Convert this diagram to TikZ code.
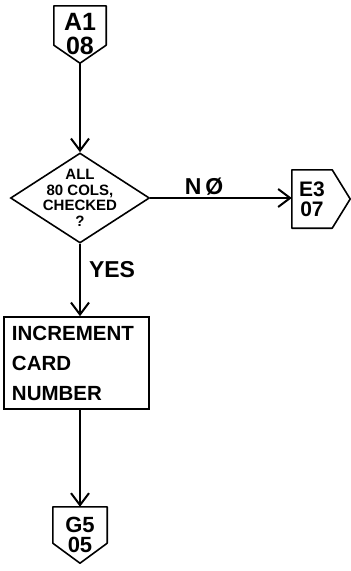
\documentclass[tikz,border=0pt]{standalone}
\usepackage{fontspec}
\setmainfont{Liberation Sans}
\usepackage{tikz}
\usetikzlibrary{arrows.meta}
\usetikzlibrary{shapes.geometric}

\begin{document}
\begin{tikzpicture}[x=1pt,y=-1pt,
    flow/.style={line width=2pt,-{Straight Barb[length=12pt,width=18pt,line width=2pt]}},
    outline/.style={line width=1.6pt,line join=round},
    offdown/.style={inner sep=0pt,minimum width=52pt,minimum height=57pt,align=center,font=\fontsize{25}{24}\selectfont\bfseries},
    offright/.style={inner sep=0pt,minimum width=40pt,minimum height=58pt,align=center,font=\fontsize{21}{20}\selectfont\bfseries},
    decision/.style={diamond,draw,line width=1.6pt,aspect=1.54,inner sep=0pt,minimum width=139pt,minimum height=90pt},
    dtext/.style={inner sep=0pt,align=center,font=\fontsize{15}{15.5}\selectfont\bfseries},
    process/.style={rectangle,draw,line width=1.6pt,minimum width=145pt,minimum height=92pt,inner xsep=8pt,text width=129pt,align=left,font=\fontsize{20.5}{30}\selectfont\bfseries},
    tag/.style={inner sep=2pt,font=\fontsize{23}{23}\selectfont\bfseries}]
\useasboundingbox (0,0) rectangle (351,571);

% connectors and boxes
\node[offdown] (a1) at (80,34.5) {A1\\08};
\draw[outline] (a1.north west) -- (a1.north east) -- ([yshift=18pt]a1.south east) -- (a1.south) -- ([yshift=18pt]a1.south west) -- cycle;

\node[decision] (chk) at (80,198) {};
\node[dtext] (chktext) at (chk) {ALL\\80 COLS,\\CHECKED\\?};

\node[offright] (e3) at (312,199) {E3\\07};
\draw[outline] (e3.north west) -- (e3.north east) -- ([xshift=18pt]e3.east) -- (e3.south east) -- (e3.south west) -- cycle;

\node[process] (inc) at (76.5,363) {INCREMENT\\CARD\\NUMBER};

\node[offdown,minimum width=54pt,minimum height=56pt,font=\fontsize{22}{20}\selectfont\bfseries] (g5) at (80,535) {G5\\05};
\draw[outline] (g5.north west) -- (g5.north east) -- ([yshift=20pt]g5.south east) -- (g5.south) -- ([yshift=20pt]g5.south west) -- cycle;

% flow lines
\draw[flow] (a1.south) -- (chk.north);
\draw[flow] (chk.east) -- node[tag,pos=0.38,above] (nolbl) {N\,Ø} (chk.east -| e3.west);
\draw[flow] (chk.south) -- node[tag,pos=0.35,right=6pt] (yeslbl) {YES} (chk.south |- inc.north);
\draw[flow] (chk.south |- inc.south) -- (g5.north);
\end{tikzpicture}
\end{document}
